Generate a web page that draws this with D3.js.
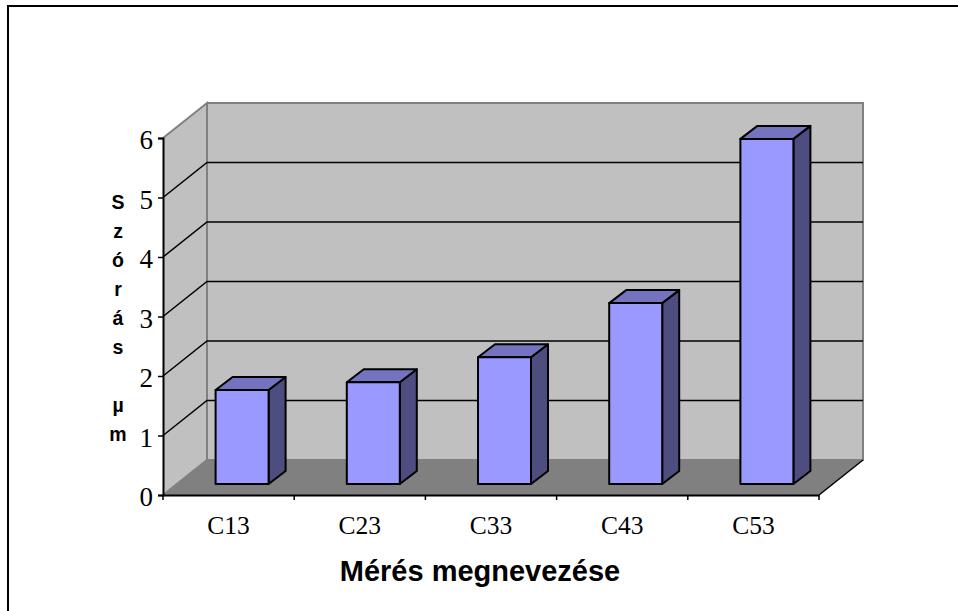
<!DOCTYPE html>
<html>
<head>
<meta charset="utf-8">
<script src="https://cdn.jsdelivr.net/npm/d3@7"></script>
<style>
  html, body { margin: 0; padding: 0; background: #fff; overflow: hidden; }
  svg { display: block; }
</style>
</head>
<body>
<div id="chart"></div>
<script>
const categories = ['C13', 'C23', 'C33', 'C43', 'C53'];
const values = [1.58, 1.71, 2.13, 3.04, 5.8];
const yTicks = [0, 1, 2, 3, 4, 5, 6];
const yTitle = ['S', 'z', 'ó', 'r', 'á', 's', '', 'µ', 'm'];
const xTitle = 'Mérés megnevezése';

const width = 958, height = 611;

const svg = d3.select('#chart').append('svg')
    .attr('width', width)
    .attr('height', height);

// outer frame: only the top and left edges fall inside the picture
svg.append('path')
    .attr('d', d3.line()([[8, height], [8, 6], [width, 6]]))
    .attr('fill', 'none')
    .attr('stroke', '#000')
    .attr('stroke-width', 2);

// scales for the front plane
const x = d3.scaleBand().domain(categories).range([163, 819]);
const y = d3.scaleLinear().domain([0, 6]).range([495, 138]);

// wall depth and bar offset
const depth = { x: 44, y: -35 };
const barShift = { x: 13.5, y: -11 };
const barDepth = { x: 17, y: -13 };
const barWidth = 53;

const line = d3.line();
const x0 = x.range()[0], x1 = x.range()[1];

// side wall
svg.append('path')
    .attr('d', line([[x0, y(0)], [x0, y(6)], [x0 + depth.x, y(6) + depth.y], [x0 + depth.x, y(0) + depth.y]]) + 'Z')
    .attr('fill', '#c0c0c0');

// back wall
svg.append('rect')
    .attr('x', x0 + depth.x).attr('y', y(6) + depth.y)
    .attr('width', x1 - x0).attr('height', y(0) - y(6))
    .attr('fill', '#c0c0c0');

// floor
svg.append('path')
    .attr('d', line([[x0, y(0)], [x1, y(0)], [x1 + depth.x, y(0) + depth.y], [x0 + depth.x, y(0) + depth.y]]) + 'Z')
    .attr('fill', '#808080');

// grey wall edges
svg.append('path')
    .attr('d', line([[x0, y(0)], [x0 + depth.x, y(0) + depth.y], [x0 + depth.x, y(6) + depth.y], [x0, y(6)]]))
    .attr('fill', 'none').attr('stroke', '#808080').attr('stroke-width', 2);
svg.append('path')
    .attr('d', line([[x0 + depth.x, y(6) + depth.y], [x1 + depth.x, y(6) + depth.y], [x1 + depth.x, y(0) + depth.y], [x0 + depth.x, y(0) + depth.y]]))
    .attr('fill', 'none').attr('stroke', '#808080').attr('stroke-width', 2);

// gridlines
svg.append('g').selectAll('path')
    .data(yTicks.filter(d => d > 0 && d < 6))
    .enter().append('path')
    .attr('d', d => line([[x0, y(d)], [x0 + depth.x, y(d) + depth.y], [x1 + depth.x, y(d) + depth.y]]))
    .attr('fill', 'none').attr('stroke', '#000').attr('stroke-width', 1.5);

// floor right edge
svg.append('path')
    .attr('d', line([[x1 + depth.x, y(0) + depth.y], [x1, y(0)]]))
    .attr('stroke', '#000').attr('stroke-width', 1.5);

// bars
const bars = svg.append('g').selectAll('g')
    .data(values)
    .enter().append('g')
    .attr('stroke', '#000')
    .attr('stroke-width', 2)
    .attr('stroke-linejoin', 'round');

const left = (d, i) => x(categories[i]) + (x.bandwidth() - barWidth) / 2 + barShift.x;
const bottom = y(0) + barShift.y;
const top_ = d => bottom - (y(0) - y(d));

bars.append('path')
    .attr('fill', '#4d4d80')
    .attr('d', (d, i) => {
        const r = left(d, i) + barWidth;
        return line([[r, bottom], [r, top_(d)], [r + barDepth.x, top_(d) + barDepth.y], [r + barDepth.x, bottom + barDepth.y]]) + 'Z';
    });
bars.append('path')
    .attr('fill', '#7373bf')
    .attr('d', (d, i) => {
        const l = left(d, i), r = l + barWidth, t = top_(d);
        return line([[l, t], [l + barDepth.x, t + barDepth.y], [r + barDepth.x, t + barDepth.y], [r, t]]) + 'Z';
    });
bars.append('rect')
    .attr('fill', '#9999ff')
    .attr('x', (d, i) => left(d, i))
    .attr('y', d => top_(d))
    .attr('width', barWidth)
    .attr('height', d => bottom - top_(d));

// axes
const xAxis = svg.append('g')
    .attr('transform', `translate(0,${y(0)})`)
    .call(d3.axisBottom(x).tickSize(0).tickPadding(21));
xAxis.select('.domain').attr('stroke', '#000').attr('stroke-width', 2);
xAxis.selectAll('text')
    .attr('font-family', '"Liberation Serif", serif')
    .attr('font-size', 25.5)
    .attr('fill', '#000');

// tick marks sit between the categories
xAxis.selectAll('.between')
    .data(d3.range(categories.length + 1))
    .enter().append('line')
    .attr('class', 'between')
    .attr('x1', d => x0 + d * x.step()).attr('x2', d => x0 + d * x.step())
    .attr('y1', 0).attr('y2', 5)
    .attr('stroke', '#000').attr('stroke-width', 1.5);

const yAxis = svg.append('g')
    .attr('transform', `translate(${x0},0)`)
    .call(d3.axisLeft(y).tickValues(yTicks).tickFormat(d3.format('d')).tickSize(5).tickPadding(5));
yAxis.select('.domain').attr('stroke', '#000').attr('stroke-width', 2);
yAxis.selectAll('.tick line').attr('stroke', '#000').attr('stroke-width', 1.5);
yAxis.selectAll('text')
    .attr('font-family', '"Liberation Serif", serif')
    .attr('font-size', 27)
    .attr('dy', '0.4em')
    .attr('fill', '#000');

// titles
svg.append('g').selectAll('text')
    .data(yTitle)
    .enter().append('text')
    .attr('x', 118)
    .attr('y', (d, i) => 209 + i * 29)
    .attr('text-anchor', 'middle')
    .attr('font-family', '"Liberation Sans", sans-serif')
    .attr('font-size', 19.5)
    .attr('font-weight', 'bold')
    .text(d => d);

svg.append('text')
    .attr('x', 480).attr('y', 581)
    .attr('text-anchor', 'middle')
    .attr('font-family', '"Liberation Sans", sans-serif')
    .attr('font-size', 29)
    .attr('font-weight', 'bold')
    .text(xTitle);
</script>
</body>
</html>
